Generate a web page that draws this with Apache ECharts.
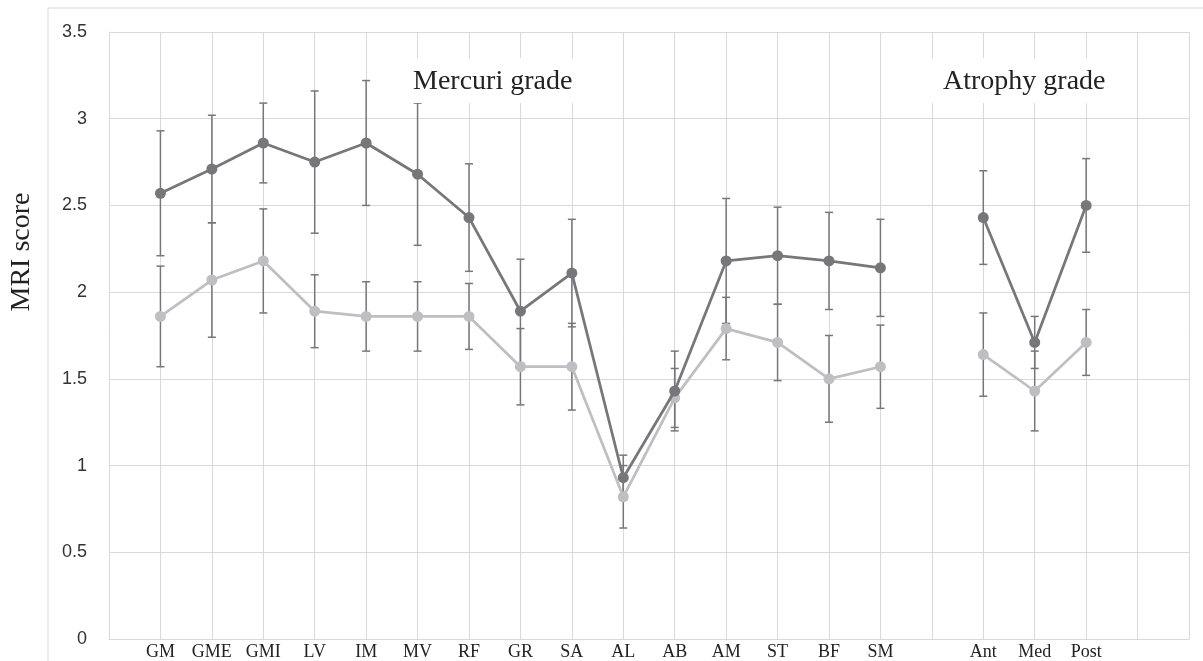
<!DOCTYPE html>
<html>
<head>
<meta charset="utf-8">
<script src="https://cdn.jsdelivr.net/npm/echarts@6/dist/echarts.min.js"></script>
<style>
  html, body { margin: 0; padding: 0; background: #fff; }
  #chart { width: 1203px; height: 661px; }
</style>
</head>
<body>
<div id="chart"></div>
<script>
// x positions: blank slots keep the gap between the two groups and the empty ends
const categories = ['', 'GM', 'GME', 'GMI', 'LV', 'IM', 'MV', 'RF', 'GR', 'SA', 'AL', 'AB', 'AM', 'ST', 'BF', 'SM', '', 'Ant', 'Med', 'Post', '', '']

const darkMean = [null, 2.57, 2.71, 2.86, 2.75, 2.86, 2.68, 2.43, 1.89, 2.11, 0.93, 1.43, 2.18, 2.21, 2.18, 2.14, null, 2.43, 1.71, 2.50, null, null]
const darkErr = [null, 0.36, 0.31, 0.23, 0.41, 0.36, 0.41, 0.31, 0.30, 0.31, 0.13, 0.23, 0.36, 0.28, 0.28, 0.28, null, 0.27, 0.15, 0.27, null, null]

const lightMean = [null, 1.86, 2.07, 2.18, 1.89, 1.86, 1.86, 1.86, 1.57, 1.57, 0.82, 1.39, 1.79, 1.71, 1.50, 1.57, null, 1.64, 1.43, 1.71, null, null]
const lightErr = [null, 0.29, 0.33, 0.30, 0.21, 0.20, 0.20, 0.19, 0.22, 0.25, 0.18, 0.17, 0.18, 0.22, 0.25, 0.24, null, 0.24, 0.23, 0.19, null, null]

const yTicks = [0, 0.5, 1, 1.5, 2, 2.5, 3, 3.5]

const serif = '"Liberation Serif", "DejaVu Serif", serif'
const sans = '"Liberation Sans", "Open Sans", sans-serif'

function errData(mean, err) {
  const out = []
  mean.forEach((m, i) => {
    if (m == null || err[i] == null) return
    out.push([i, m - err[i], m + err[i]])
  })
  return out
}

function renderErr(params, api) {
  const x = api.value(0)
  const lo = api.coord([x, api.value(1)])
  const hi = api.coord([x, api.value(2)])
  const cap = 4
  const style = { stroke: '#77777b', lineWidth: 1.5 }
  return {
    type: 'group',
    children: [
      { type: 'line', shape: { x1: lo[0], y1: lo[1], x2: hi[0], y2: hi[1] }, style },
      { type: 'line', shape: { x1: hi[0] - cap, y1: hi[1], x2: hi[0] + cap, y2: hi[1] }, style },
      { type: 'line', shape: { x1: lo[0] - cap, y1: lo[1], x2: lo[0] + cap, y2: lo[1] }, style }
    ]
  }
}

const chart = echarts.init(document.getElementById('chart'))

const option = {
  animation: false,
  backgroundColor: '#fff',
  grid: { left: 109, right: 14, top: 32, bottom: 19 },
  xAxis: {
    type: 'category',
    data: categories,
    boundaryGap: false,
    axisLine: { show: true, lineStyle: { color: '#d9d9d9', width: 1 } },
    axisTick: { show: false },
    axisLabel: { interval: 0, margin: 4, color: '#222', fontFamily: serif, fontSize: 18 },
    splitLine: { show: true, interval: 0, lineStyle: { color: '#d9d9d9', width: 1 } }
  },
  yAxis: {
    type: 'value',
    min: yTicks[0],
    max: yTicks[yTicks.length - 1],
    interval: 0.5,
    axisLine: { show: true, lineStyle: { color: '#d9d9d9', width: 1 } },
    axisTick: { show: false },
    axisLabel: { margin: 22, color: '#333', fontFamily: sans, fontSize: 18 },
    splitLine: { show: true, lineStyle: { color: '#d9d9d9', width: 1 } }
  },
  graphic: [
    {
      type: 'rect', z: -10, silent: true,
      shape: { x: 48, y: 8, width: 1180, height: 680 },
      style: { fill: 'none', stroke: '#d9d9d9', lineWidth: 1 }
    },
    {
      type: 'text', z: 100, x: 22, y: 252, rotation: Math.PI / 2,
      style: {
        text: 'MRI score', fill: '#222', font: '28px ' + serif,
        textAlign: 'center', textVerticalAlign: 'middle'
      }
    },
    {
      type: 'rect', z: 90, silent: true,
      shape: { x: 410, y: 58, width: 168, height: 45 },
      style: { fill: '#fff' }
    },
    {
      type: 'text', z: 100, x: 413, y: 81.5,
      style: { text: 'Mercuri grade', fill: '#222', font: '28px ' + serif, textVerticalAlign: 'middle' }
    },
    {
      type: 'rect', z: 90, silent: true,
      shape: { x: 932, y: 58, width: 184, height: 45 },
      style: { fill: '#fff' }
    },
    {
      type: 'text', z: 100, x: 943, y: 81.5,
      style: { text: 'Atrophy grade', fill: '#222', font: '28px ' + serif, textVerticalAlign: 'middle' }
    }
  ],
  series: [
    {
      name: 'dark err',
      type: 'custom',
      renderItem: renderErr,
      data: errData(darkMean, darkErr),
      z: 2
    },
    {
      name: 'light err',
      type: 'custom',
      renderItem: renderErr,
      data: errData(lightMean, lightErr),
      z: 2
    },
    {
      name: 'light',
      type: 'line',
      data: lightMean,
      connectNulls: false,
      symbol: 'circle',
      symbolSize: 11,
      lineStyle: { color: '#bfbfc3', width: 2.75 },
      itemStyle: { color: '#bfbfc3' },
      z: 3
    },
    {
      name: 'dark',
      type: 'line',
      data: darkMean,
      connectNulls: false,
      symbol: 'circle',
      symbolSize: 11,
      lineStyle: { color: '#77777b', width: 2.75 },
      itemStyle: { color: '#77777b' },
      z: 4
    }
  ]
}

chart.setOption(option)
</script>
</body>
</html>
